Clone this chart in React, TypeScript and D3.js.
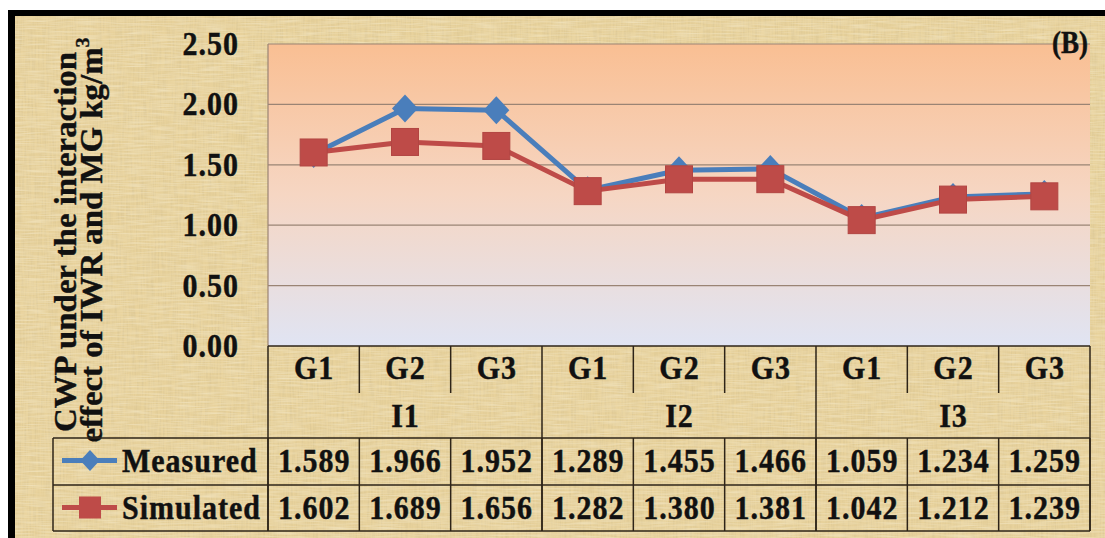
import React from "react";
import * as d3 from "d3";

const groups = ["I1", "I2", "I3"];
const subCats = ["G1", "G2", "G3"];
const categories = groups.flatMap((g) => subCats.map((s) => `${g}-${s}`));
const measured = [1.589, 1.966, 1.952, 1.289, 1.455, 1.466, 1.059, 1.234, 1.259];
const simulated = [1.602, 1.689, 1.656, 1.282, 1.38, 1.381, 1.042, 1.212, 1.239];
const yTicks = [0, 0.5, 1.0, 1.5, 2.0, 2.5];
const seriesNames = ["Measured", "Simulated"];
const titleLines = ["CWP under the interaction", "effect of IWR and MG kg/m"];
const panelLabel = "(B)";

const W = 1105;
const H = 538;
const plotL = 268;
const plotR = 1090;
const plotT = 44;
const plotB = 346;
const gRowB = 393;
const tableT = 438;
const rowMid = 485;
const tableB = 531;
const tableL = 53;

const FONT = "'Liberation Serif', 'Times New Roman', serif";
const BLUE = "#4A7EBB";
const RED = "#BE4B48";
const LINEC = "#2E2418";
const SY = 1.15;

function T(props: { x: number; y: number; anchor?: string; size?: number; ls?: number; children: React.ReactNode }) {
  const { x, y, anchor = "start", size = 30, ls = 1, children } = props;
  const shift = anchor === "middle" ? ls / 2 : anchor === "end" ? ls : 0;
  return (
    <text
      transform={`translate(${x + shift},${y}) scale(1,${SY})`}
      textAnchor={anchor}
      fontSize={size}
      letterSpacing={ls}
      fill="#111"
      stroke="#111"
      strokeWidth={0.4}
    >
      {children}
    </text>
  );
}

export default function App() {
  const x = d3.scaleBand<string>().domain(categories).range([plotL, plotR]).padding(0);
  const y = d3.scaleLinear().domain([0, 2.5]).range([plotB, plotT]);
  const bw = x.bandwidth();
  const cx = (c: string) => (x(c) as number) + bw / 2;
  const line = d3
    .line<number>()
    .x((_, i) => cx(categories[i]))
    .y((d) => y(d));
  const fmt = d3.format(".2f");
  const fmt3 = d3.format(".3f");

  const diamond = (px: number, py: number, s = 1) =>
    `M${px},${py - 14 * s}L${px + 13 * s},${py}L${px},${py + 14 * s}L${px - 13 * s},${py}Z`;
  const sq = 27;

  const cellEdges = categories.map((c) => x(c) as number).concat([plotR]);

  return (
    <svg
      width={W}
      height={H}
      style={{ position: "absolute", left: 0, top: 0 }}
      fontFamily={FONT}
      fontWeight="bold"
    >
      <defs>
        <linearGradient id="plotbg" x1="0" y1="0" x2="0" y2="1">
          <stop offset="0%" stopColor="#F9BF93" />
          <stop offset="50%" stopColor="#F6D6C3" />
          <stop offset="100%" stopColor="#E0E4F3" />
        </linearGradient>
        <filter id="paper" x="0" y="0" width="100%" height="100%">
          <feTurbulence type="fractalNoise" baseFrequency="0.6 0.04" numOctaves={2} seed={3} result="n1" />
          <feColorMatrix
            in="n1"
            type="matrix"
            values="0 0 0 0 0.62  0 0 0 0 0.50  0 0 0 0 0.26  1.3 0 0 0 -0.45"
            result="c1"
          />
          <feTurbulence type="fractalNoise" baseFrequency="0.04 0.6" numOctaves={2} seed={7} result="n2" />
          <feColorMatrix
            in="n2"
            type="matrix"
            values="0 0 0 0 0.98  0 0 0 0 0.93  0 0 0 0 0.76  1.3 0 0 0 -0.5"
            result="c2"
          />
          <feMerge>
            <feMergeNode in="c1" />
            <feMergeNode in="c2" />
          </feMerge>
        </filter>
      </defs>

      <rect x={0} y={0} width={W} height={H} fill="#ffffff" />
      <rect x={8} y={10} width={W - 8} height={H - 10} fill="#E8D29C" />
      <rect x={8} y={10} width={W - 8} height={H - 10} filter="url(#paper)" opacity={0.6} />
      {/* black frame top & left */}
      <rect x={8} y={10} width={W - 8} height={6} fill="#000" />
      <rect x={8} y={10} width={7} height={H - 10} fill="#000" />

      {/* plot area */}
      <rect x={plotL} y={plotT} width={plotR - plotL} height={plotB - plotT} fill="url(#plotbg)" />
      {yTicks
        .filter((t) => t > 0 && t < 2.5)
        .map((t) => (
          <line key={t} x1={plotL} x2={plotR} y1={y(t)} y2={y(t)} stroke="#9A8474" strokeWidth={1.2} />
        ))}
      <line x1={plotL} x2={plotR} y1={plotT} y2={plotT} stroke="#9A8474" strokeWidth={1.2} />
      <line x1={plotL} x2={plotL} y1={plotT} y2={plotB} stroke="#9A8474" strokeWidth={1.2} />

      {/* y tick labels */}
      {yTicks.map((t) => (
        <T key={t} x={238} y={y(t) + 11} anchor="end">
          {fmt(t)}
        </T>
      ))}

      {/* y title */}
      <g transform="translate(76,242) rotate(-90) scale(1.06,1)">
        <text x={0} y={0} textAnchor="middle" fontSize={31} fill="#111" stroke="#111" strokeWidth={0.4}>
          {titleLines[0]}
        </text>
      </g>
      <g transform="translate(102,240) rotate(-90) scale(1.06,1)">
        <text x={0} y={0} textAnchor="middle" fontSize={31} fill="#111" stroke="#111" strokeWidth={0.4}>
          {titleLines[1]}
          <tspan dy={-13} fontSize={19}>
            3
          </tspan>
        </text>
      </g>

      {/* panel label */}
      <T x={1088} y={53} anchor="end" size={27} ls={0}>
        {panelLabel}
      </T>

      {/* series lines */}
      <path d={line(measured) || ""} fill="none" stroke={BLUE} strokeWidth={5} strokeLinejoin="round" />
      {measured.map((v, i) => (
        <path key={`m${i}`} d={diamond(cx(categories[i]), y(v))} fill={BLUE} />
      ))}
      <path d={line(simulated) || ""} fill="none" stroke={RED} strokeWidth={5} strokeLinejoin="round" />
      {simulated.map((v, i) => (
        <rect
          key={`s${i}`}
          x={cx(categories[i]) - sq / 2}
          y={y(v) - sq / 2}
          width={sq}
          height={sq}
          fill={RED}
          stroke="#B24542"
          strokeWidth={1}
        />
      ))}

      {/* category axis */}
      <line x1={plotL} x2={plotR} y1={plotB} y2={plotB} stroke={LINEC} strokeWidth={1.5} />
      {categories.map((c, i) => (
        <T key={c} x={cx(c)} y={379} anchor="middle">
          {subCats[i % 3]}
        </T>
      ))}
      {groups.map((g, gi) => {
        const a = x(categories[gi * 3]) as number;
        return (
          <T key={g} x={a + (bw * 3) / 2} y={427} anchor="middle">
            {g}
          </T>
        );
      })}
      {cellEdges.map((e, i) => {
        const full = i % 3 === 0;
        return (
          <line
            key={`v${i}`}
            x1={e}
            x2={e}
            y1={plotB}
            y2={full ? tableB : gRowB}
            stroke={LINEC}
            strokeWidth={1.5}
          />
        );
      })}
      {/* data table */}
      {cellEdges.map((e, i) => (
        <line key={`t${i}`} x1={e} x2={e} y1={tableT} y2={tableB} stroke={LINEC} strokeWidth={1.5} />
      ))}
      <line x1={tableL} x2={tableL} y1={tableT} y2={tableB} stroke={LINEC} strokeWidth={1.5} />
      {[tableT, rowMid, tableB].map((yy) => (
        <line key={yy} x1={tableL} x2={plotR} y1={yy} y2={yy} stroke={LINEC} strokeWidth={1.5} />
      ))}

      {[measured, simulated].map((arr, r) => {
        const top = r === 0 ? tableT : rowMid;
        const mid = top + (rowMid - tableT) / 2;
        return (
          <g key={`row${r}`}>
            <line x1={62} x2={117} y1={mid - 1} y2={mid - 1} stroke={r === 0 ? BLUE : RED} strokeWidth={5} />
            {r === 0 ? (
              <path d={diamond(90, mid - 1, 0.75)} fill={BLUE} />
            ) : (
              <rect x={79} y={mid - 12} width={22} height={22} fill={RED} />
            )}
            <T x={122} y={top + 34}>
              {seriesNames[r]}
            </T>
            {arr.map((v, i) => (
              <T key={i} x={cx(categories[i])} y={top + 34} anchor="middle">
                {fmt3(v)}
              </T>
            ))}
          </g>
        );
      })}
    </svg>
  );
}
